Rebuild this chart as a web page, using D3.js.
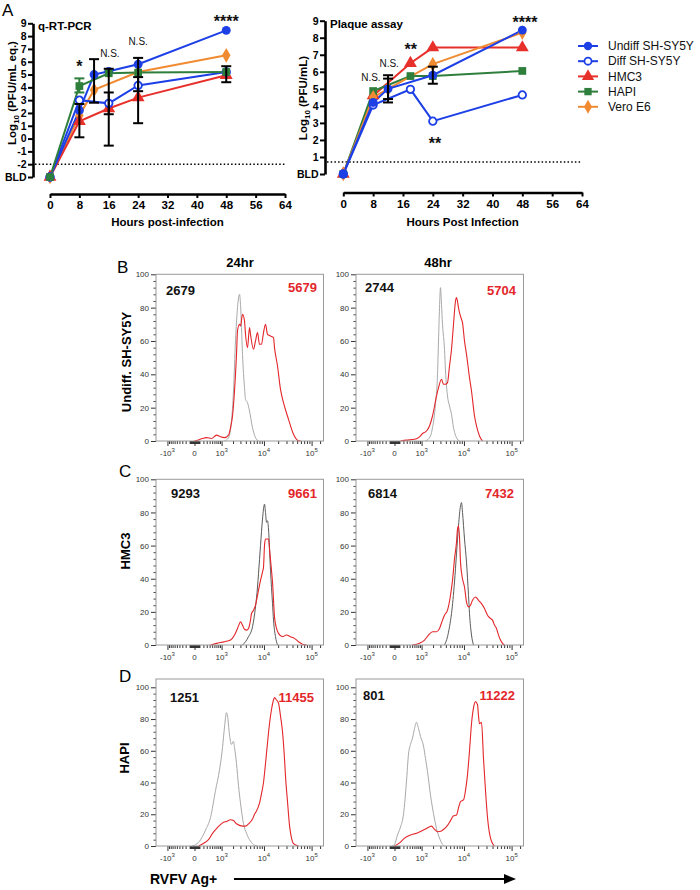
<!DOCTYPE html>
<html><head><meta charset="utf-8">
<script src="https://cdn.jsdelivr.net/npm/d3@7"></script>
<style>body{margin:0;background:#fff}svg{display:block}</style>
</head><body><svg id="c" width="700" height="890"></svg>
<script>
// ---------------- DATA ----------------
const cellLines = ["Undiff SH-SY5Y","Diff SH-SY5Y","HMC3","HAPI","Vero E6"];
const lineColors = ["#1d3fe6","#1d3fe6","#e8302b","#2f7f3c","#f18b32"];
const markerShapes = ["circle","open","triangle","square","diamond"];
const xTicksHours = [0,8,16,24,32,40,48,56,64];

// q-RT-PCR, log10 PFU/mL eq. ([hour, value]); BLD = -3
const qpcrUndiff = [[0,-3],[8,2.2],[12,5.0],[16,5.25],[24,5.8],[48,8.45]];
const qpcrDiff   = [[0,-3],[8,3.0],[16,2.75],[24,4.15],[48,5.2]];
const qpcrHMC3   = [[0,-3],[8,1.35],[16,2.35],[24,3.2],[48,4.95]];
const qpcrHAPI   = [[0,-3],[8,4.1],[16,5.1],[24,5.15],[48,5.2]];
const qpcrVero   = [[0,-3],[8,1.8],[12,3.8],[24,5.2],[48,6.5]];
const qpcrErrBlack = [[8,0.1,2.7],[12,2.8,6.2],[16,-0.55,5.45],[16,1.9,3.6],[24,1.2,6.3],[24,3.7,4.8],[48,4.4,5.65]];
const qpcrErrGreen = [[8,3.6,4.7]];
const qpcrSig = [[8,5.2,"*"],[16.3,6.37,"N.S."],[24,7.3,"N.S."],[48,8.7,"****"]];

// Plaque assay, log10 PFU/mL; BLD = 0
const plaqueUndiff = [[0,0],[8,4.2],[12,5.0],[24,5.8],[48,8.45]];
const plaqueDiff   = [[0,0],[8,4.05],[18,4.97],[24,3.1],[48,4.64]];
const plaqueHMC3   = [[0,0],[8,4.6],[18,6.5],[24,7.42],[48,7.42]];
const plaqueHAPI   = [[0,0],[8,4.87],[18,5.75],[24,5.75],[48,6.05]];
const plaqueVero   = [[0,0],[8,4.5],[12,5.0],[24,6.45],[48,8.3]];
const plaqueErrBlack = [[12,4.2,5.8],[12,4.4,5.6],[24,5.3,6.3]];
const plaqueSig = [[7.4,5.48,"N.S."],[12.3,6.3,"N.S."],[18.1,6.96,"**"],[24.6,1.48,"**"],[48.7,8.57,"****"]];

// Flow histograms: [RVFV Ag fluorescence, % of max]
const hB24grey = [[1206,0],[1538,2],[1833,12],[2054,30],[2297,60],[2565,80],[2859,88],[3017,82],[3183,68],[3357,52],[3730,32],[3930,25],[4361,23],[4835,18],[5635,8],[6559,2],[7625,0]];
const hB24red = [[0,0],[58,0.5],[176,1.5],[293,2],[474,1.5],[703,3.5],[931,2.5],[1206,2],[1538,3.5],[1730,8],[1941,15],[2173,30],[2428,52],[2565,66],[2859,70],[3017,69],[3357,76],[3730,72],[3930,64],[4361,56],[4835,68],[5089,64],[5929,55],[6559,60],[7253,65],[8015,58],[8854,58],[9777,65],[10792,70],[11908,64],[13795,63],[15972,62],[16769,56],[19402,45],[22440,31],[25945,23],[33021,13],[42001,4],[50893,0.5],[58767,0]];
const hB48grey = [[1283,0],[1730,3],[1941,8],[2297,22],[2565,40],[2708,60],[2859,80],[3017,92],[3183,82],[3357,70],[3730,55],[3930,42],[4361,27],[4835,21],[5356,16],[5929,8],[6898,2],[8015,0]];
const hB48red = [[126,0],[293,0.5],[605,1],[870,2.5],[1062,4.5],[1364,6],[1632,9],[1941,15],[2428,27],[2708,32],[3183,37],[3539,34],[3930,34],[4361,35],[4835,45],[5356,55],[5929,70],[6559,84],[6898,86],[7625,80],[8015,77],[8854,73],[9305,71],[10272,60],[11337,52],[13136,38],[14486,30],[16769,15],[18482,9],[21379,3],[24720,0]];
const hC24grey = [[3357,0],[3930,2],[4592,5],[5635,11],[6559,23],[7253,35],[7625,43],[8425,60],[9305,76],[9777,82],[10272,85],[10792,80],[11337,74],[11908,75],[12507,70],[13795,45],[15211,25],[15972,15],[17605,5],[19402,0]];
const hC24red = [[434,0],[703,1],[1206,2],[1730,3],[2173,6],[2565,10],[2859,13],[3017,14],[3357,12],[3730,9.5],[4140,9],[4592,10],[5089,15],[5356,19],[5929,21],[6559,24],[7253,30],[8425,39],[9305,44],[9777,47],[10272,60],[10792,64],[12507,64],[13136,58],[14486,45],[15211,38],[16769,17],[18482,10],[20367,7],[24720,5],[29987,6],[36359,5],[44069,4],[53394,2],[64676,0.5],[78356,0]];
const hC48grey = [[3730,0],[4361,5],[4835,11],[5356,19],[6237,38],[6898,55],[7625,72],[8425,84],[8854,86],[9305,80],[10272,64],[11337,50],[12507,30],[13136,19],[14486,6],[15972,0]];
const hC48red = [[515,0],[870,1],[1206,3],[1538,6],[1941,8],[2428,8],[2859,10],[3357,15],[3730,18],[4361,21],[5089,30],[5635,39],[6237,52],[6898,62],[7253,70],[7625,72],[8015,65],[8425,50],[9305,40],[10272,35],[11337,26],[12507,23],[13795,24],[15211,27],[17605,29],[20367,27],[23553,25],[27228,22],[31468,18],[36359,16],[40029,15],[44069,12],[48511,10],[53394,6],[58767,3],[64676,1],[71174,0]];
const hD24grey = [[-51,0],[0,0.5],[102,3],[262,10],[434,18],[653,35],[870,48],[1062,62],[1206,75],[1364,84],[1449,82],[1632,70],[1833,64],[2054,66],[2173,62],[2428,52],[2708,38],[3017,27],[3539,14],[4140,8],[5089,3],[6237,0.5],[7253,0]];
const hD24red = [[80,0],[232,2],[360,4],[515,8],[703,11],[870,13],[1132,15],[1364,15.5],[1730,16.5],[2054,16],[2428,14],[2859,13],[3357,12.5],[3930,12.5],[4592,14],[5635,17],[6237,20],[6898,22],[8015,27],[8854,33],[9777,40],[10792,52],[11908,65],[13136,77],[14486,86],[15972,92],[16769,93.5],[18482,92],[20367,90],[22440,82],[24720,72],[27228,55],[28575,44],[31468,28],[34650,13],[38152,5],[42001,1.5],[53394,0]];
const hD48grey = [[-51,0],[0,1],[58,7],[126,12],[203,20],[293,41],[360,58],[434,64],[515,68],[605,74],[703,78],[812,74],[931,69],[1132,63],[1283,55],[1449,47],[1730,32],[1941,24],[2173,17],[2428,11],[2859,5],[3357,1],[3730,0]];
const hD48red = [[0,0],[102,2],[232,5],[434,7],[703,8],[995,9.5],[1364,11],[1833,12.5],[2173,10.5],[2565,9],[3183,9.5],[3730,11],[4361,13],[5089,16],[5929,19],[6898,19.5],[7625,24],[8425,28],[9777,29],[10792,35],[11908,45],[13136,60],[14486,77],[15972,87],[17605,91],[19402,89],[20367,82],[21379,77],[23553,78],[25945,55],[28575,35],[31468,18],[34650,8],[38152,3],[44069,0]];

const mfiValues = [["2679","5679"],["2744","5704"],["9293","9661"],["6814","7432"],["1251","11455"],["801","11222"]];
const flowYTicks = [0,20,40,60,80,100];
const flowXMajor = [-1000,0,1000,10000,100000];
const flowXLabels = [["-10","3"],["0",""],["10","3"],["10","4"],["10","5"]];

// ---------------- DRAW ----------------
const svg = d3.select("#c");
const FONT = "'Liberation Sans', Arial, Helvetica, sans-serif";
svg.attr("font-family", FONT);

const symType = {circle:d3.symbolCircle, open:d3.symbolCircle, triangle:d3.symbolTriangle, square:d3.symbolSquare, diamond:d3.symbolDiamond};
const symArea = {circle:62, open:44, triangle:72, square:60, diamond:62};
function marker(g, shape, color, cx, cy, scale=1){
  g.append("path").attr("d", d3.symbol(symType[shape], symArea[shape]*scale)())
    .attr("transform", `translate(${cx},${cy})`)
    .attr("fill", shape==="open" ? "#fff" : color)
    .attr("stroke", color).attr("stroke-width", shape==="open" ? 1.8 : 0);
}

function topChart(c){
  const g = svg.append("g");
  const x = d3.scaleLinear().domain([0,64]).range([c.x0, c.x1]);
  const y = d3.scaleLinear().domain([c.yMin, 9]).range([c.yBot, c.yTop]);
  const ya = g.append("g").attr("transform", `translate(${c.ax},0)`)
    .call(d3.axisLeft(y).tickValues(d3.range(c.yMin, 10)).tickSize(5).tickSizeOuter(0).tickPadding(1.5)
      .tickFormat(v => v === c.yMin ? "BLD" : String(v)));
  ya.select(".domain").attr("stroke","#000").attr("stroke-width",2.6);
  ya.selectAll(".tick line").attr("stroke","#000").attr("stroke-width",2);
  ya.selectAll(".tick text").attr("font-size",10.5).attr("font-weight","bold").attr("font-family",FONT).attr("fill","#000");
  const xa = g.append("g").attr("transform", `translate(0,${c.ay})`)
    .call(d3.axisBottom(x).tickValues(xTicksHours).tickSize(4).tickSizeOuter(0).tickPadding(3));
  xa.select(".domain").attr("stroke","#000").attr("stroke-width",2.6);
  xa.selectAll(".tick line").attr("stroke","#000").attr("stroke-width",2);
  xa.selectAll(".tick text").attr("font-size",11.5).attr("font-weight","bold").attr("font-family",FONT).attr("fill","#000");
  // detection limit
  g.append("line").attr("x1", c.ax+2).attr("x2", c.dotEnd).attr("y1", y(c.dot)).attr("y2", y(c.dot))
    .attr("stroke","#000").attr("stroke-width",1.5).attr("stroke-dasharray","1.5,2.2");
  const line = d3.line().x(d => x(d[0])).y(d => y(d[1]));
  c.order.forEach(i => {
    const s = c.series[i];
    g.append("path").datum(s).attr("d", line).attr("fill","none").attr("stroke", lineColors[i]).attr("stroke-width",2);
  });
  c.order.forEach(i => {
    c.series[i].forEach(d => marker(g, markerShapes[i], lineColors[i], x(d[0]), y(d[1])));
  });
  const drawErr = (arr, color) => arr.forEach(e => {
    const xx = x(e[0]);
    g.append("line").attr("x1",xx).attr("x2",xx).attr("y1",y(e[1])).attr("y2",y(e[2])).attr("stroke",color).attr("stroke-width",2);
    [e[1], e[2]].forEach(v => g.append("line").attr("x1",xx-5).attr("x2",xx+5).attr("y1",y(v)).attr("y2",y(v)).attr("stroke",color).attr("stroke-width",2));
  });
  drawErr(c.errGreen || [], lineColors[3]);
  drawErr(c.err, "#000");
  c.sig.forEach(s => {
    const star = s[2].indexOf("*") >= 0;
    g.append("text").attr("x", x(s[0])).attr("y", y(s[1])).attr("text-anchor","middle")
      .attr("font-size", star ? 16 : 10).attr("font-weight", star ? "bold" : "normal").attr("fill","#111").text(s[2]);
  });
  g.append("text").attr("x", c.ax + 5).attr("y", c.titleY).attr("font-size",11.5).attr("font-weight","bold").text(c.title);
  const yl = g.append("text").attr("transform", `translate(${c.ylabX},${c.ylabY}) rotate(-90)`).attr("text-anchor","middle")
    .attr("font-size",11.5).attr("font-weight","bold");
  yl.append("tspan").text("Log");
  yl.append("tspan").attr("font-size",8).attr("dy",3).text("10");
  yl.append("tspan").attr("dy",-3).text(c.ylabRest);
  g.append("text").attr("x", (c.x0+c.x1)/2).attr("y", c.xlabY).attr("text-anchor","middle")
    .attr("font-size",11.5).attr("font-weight","bold").text(c.xlab);
}

topChart({x0:50, x1:285, ax:33, ay:194, yMin:-3, yBot:177, yTop:23.3, dot:-2, dotEnd:285,
  series:[qpcrUndiff,qpcrDiff,qpcrHMC3,qpcrHAPI,qpcrVero], order:[4,2,1,0,3],
  err:qpcrErrBlack, errGreen:qpcrErrGreen, sig:qpcrSig, title:"q-RT-PCR", titleY:30,
  ylabX:16, ylabY:93, ylabRest:" (PFU/mL eq.)", xlab:"Hours post-infection", xlabY:226});
topChart({x0:343.3, x1:582, ax:325, ay:192.5, yMin:0, yBot:174, yTop:20.7, dot:0.7, dotEnd:582,
  series:[plaqueUndiff,plaqueDiff,plaqueHMC3,plaqueHAPI,plaqueVero], order:[2,3,4,1,0],
  err:plaqueErrBlack, sig:plaqueSig, title:"Plaque assay", titleY:28,
  ylabX:307, ylabY:98, ylabRest:" (PFU/mL)", xlab:"Hours Post Infection", xlabY:226});

svg.append("text").attr("x",2).attr("y",16).attr("font-size",17).text("A");

// legend
const lg = svg.append("g");
cellLines.forEach((name, i) => {
  const yy = 46 + i*15.2;
  lg.append("line").attr("x1",578).attr("x2",598).attr("y1",yy).attr("y2",yy).attr("stroke",lineColors[i]).attr("stroke-width",2);
  marker(lg, markerShapes[i], lineColors[i], 588, yy, 0.9);
  lg.append("text").attr("x",608).attr("y",yy).attr("dy","0.35em").attr("font-size",12).attr("fill","#111").text(name);
});

// ---------------- FLOW PANELS ----------------
const FW = 167.5;
function flowPanel(p){
  const g = svg.append("g");
  const x = d3.scaleSymlog().constant(380).domain([-2000,176500]).range([p.x0, p.x0+FW]);
  const y = d3.scaleLinear().domain([0,100]).range([p.y0, p.y100]);
  const ya = g.append("g").attr("transform",`translate(${p.x0},0)`)
    .call(d3.axisLeft(y).tickValues(flowYTicks).tickSize(5).tickSizeOuter(0).tickPadding(2));
  ya.select(".domain").remove();
  ya.selectAll(".tick line").attr("stroke","#333");
  ya.selectAll(".tick text").attr("font-size",8).attr("fill","#333").attr("font-family",FONT);
  const yMinor = d3.range(0,101,4).filter(v => v % 20 !== 0);
  const ym = g.append("g").attr("transform",`translate(${p.x0},0)`)
    .call(d3.axisLeft(y).tickValues(yMinor).tickSize(2.5).tickSizeOuter(0).tickFormat(""));
  ym.select(".domain").remove(); ym.selectAll(".tick line").attr("stroke","#444");
  const xa = g.append("g").attr("transform",`translate(0,${p.y0})`)
    .call(d3.axisBottom(x).tickValues(flowXMajor).tickSize(5).tickSizeOuter(0).tickFormat(""));
  xa.select(".domain").remove(); xa.selectAll(".tick line").attr("stroke","#333");
  const minors = [];
  for (let m=1;m<=9;m++){ minors.push(-m*100, m*100, -m*10, m*10); if(m>1){ minors.push(m*1000, m*10000); } }
  minors.push(150000);
  const xm = g.append("g").attr("transform",`translate(0,${p.y0})`)
    .call(d3.axisBottom(x).tickValues(minors.filter(v => v > -2000 && v < 176500)).tickSize(3).tickSizeOuter(0).tickFormat(""));
  xm.select(".domain").remove(); xm.selectAll(".tick line").attr("stroke","#333");
  flowXMajor.forEach((v,i) => {
    const t = g.append("text").attr("x", x(v)).attr("y", p.y0+15).attr("text-anchor","middle").attr("font-size",8).attr("fill","#333");
    t.append("tspan").text(flowXLabels[i][0]);
    if (flowXLabels[i][1]) t.append("tspan").attr("font-size",6).attr("dy",-4).text(flowXLabels[i][1]);
  });
  const line = d3.line().x(d => x(d[0])).y(d => y(d[1])).curve(d3.curveMonotoneX);
  g.append("path").datum(p.grey).attr("d", line).attr("fill","none").attr("stroke", p.greyColor).attr("stroke-width",1);
  g.append("path").datum(p.red).attr("d", line).attr("fill","none").attr("stroke","#e3262a").attr("stroke-width",1.1);
  g.append("rect").attr("x",p.x0).attr("y",p.top).attr("width",FW).attr("height",p.y0-p.top)
    .attr("fill","none").attr("stroke","#9a9a9a").attr("stroke-width",1);
  g.append("text").attr("x",p.x0+p.mfiG[0]).attr("y",p.mfiG[1]).attr("font-size",13).attr("font-weight","bold").attr("fill","#111").text(p.mfi[0]);
  g.append("text").attr("x",p.x0+p.mfiR[0]).attr("y",p.mfiR[1]).attr("text-anchor","end").attr("font-size",13).attr("font-weight","bold").attr("fill","#e3262a").text(p.mfi[1]);
}

const rows = [
  {top:274.3, y100:274.3, y0:441},
  {top:479.3, y100:479.3, y0:645},
  {top:679, y100:687.3, y0:846}
];
const panelData = [
  [hB24grey,hB24red,"#a9a9a9",[10,295],[161,292]],[hB48grey,hB48red,"#a9a9a9",[9,292],[160,295]],
  [hC24grey,hC24red,"#5a5a5a",[15,498],[161,498]],[hC48grey,hC48red,"#5a5a5a",[12,498],[158,498]],
  [hD24grey,hD24red,"#a9a9a9",[14,702],[158,702]],[hD48grey,hD48red,"#a9a9a9",[7,700],[159,700]]
];
panelData.forEach((pd,k) => {
  const r = rows[Math.floor(k/2)];
  flowPanel({x0: k%2===0 ? 156 : 356, top:r.top, y100:r.y100, y0:r.y0, grey:pd[0], red:pd[1], greyColor:pd[2],
    mfi:mfiValues[k], mfiG:pd[3], mfiR:[pd[4][0], pd[4][1]]});
});

[["24hr",240],["48hr",438]].forEach(c => svg.append("text").attr("x",c[1]).attr("y",267).attr("text-anchor","middle").attr("font-size",13).attr("font-weight","bold").text(c[0]));
[["Undiff. SH-SY5Y",131,362],["HMC3",130,551],["HAPI",129,758]].forEach(r =>
  svg.append("text").attr("transform",`translate(${r[1]},${r[2]}) rotate(-90)`).attr("text-anchor","middle").attr("font-size",13).attr("font-weight","bold").text(r[0]));
[["B",117,273],["C",119,477],["D",119,682]].forEach(l => svg.append("text").attr("x",l[1]).attr("y",l[2]).attr("font-size",17).text(l[0]));

svg.append("text").attr("x",150).attr("y",884).attr("font-size",14).attr("font-weight","bold").text("RVFV Ag+");
svg.append("line").attr("x1",234).attr("x2",506).attr("y1",879).attr("y2",879).attr("stroke","#000").attr("stroke-width",1.8);
svg.append("path").attr("d","M504,874 L516,879 L504,884 Z").attr("fill","#000");
</script></body></html>
